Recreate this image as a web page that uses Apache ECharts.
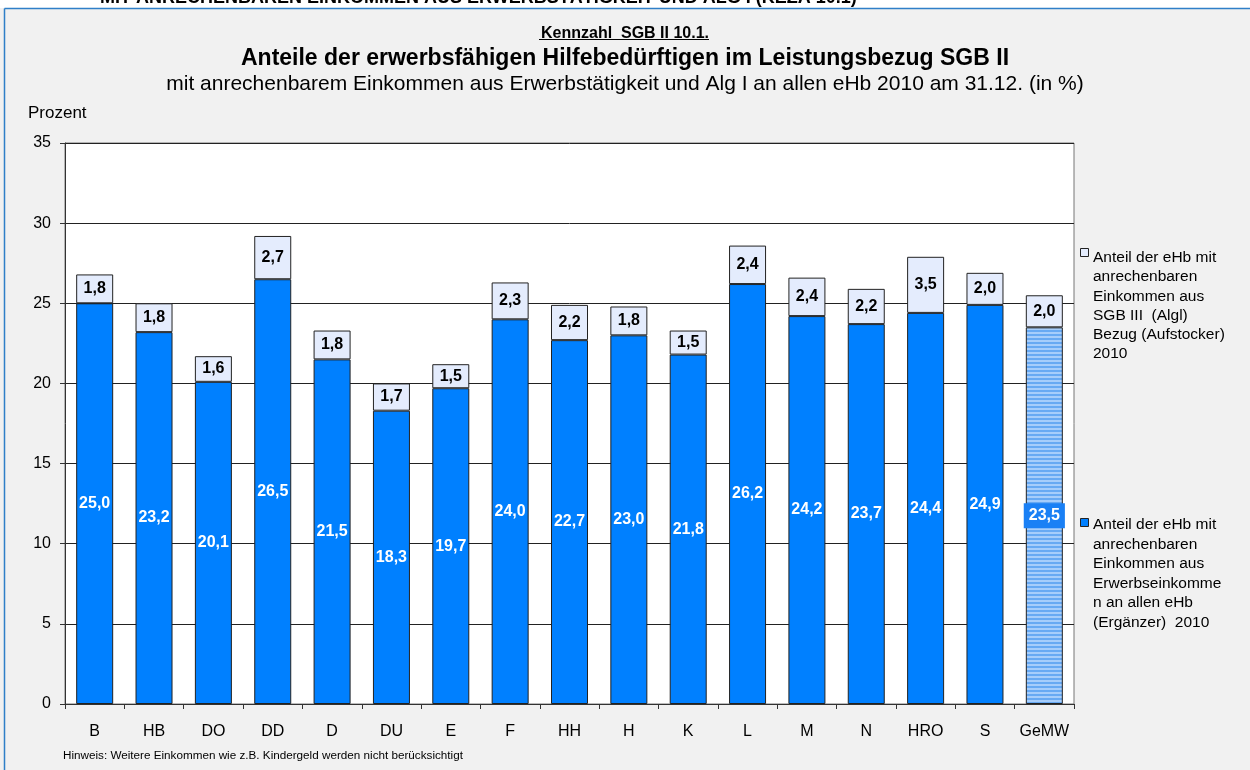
<!DOCTYPE html>
<html>
<head>
<meta charset="utf-8">
<script src="https://cdn.jsdelivr.net/npm/echarts@6/dist/echarts.min.js"></script>
<style>html,body{margin:0;padding:0;background:#fff;}#chart{width:1250px;height:770px;}</style>
</head>
<body>
<div id="chart"></div>
<script>
const categories = ['B','HB','DO','DD','D','DU','E','F','HH','H','K','L','M','N','HRO','S','GeMW'];
const ergaenzer = [25.0,23.2,20.1,26.5,21.5,18.3,19.7,24.0,22.7,23.0,21.8,26.2,24.2,23.7,24.4,24.9,23.5];
const aufstocker = [1.8,1.8,1.6,2.7,1.8,1.7,1.5,2.3,2.2,1.8,1.5,2.4,2.4,2.2,3.5,2.0,2.0];
const legendNames = [
  'Anteil der eHb mit\nanrechenbaren\nEinkommen aus\nSGB III  (Algl)\nBezug (Aufstocker)\n2010',
  'Anteil der eHb mit\nanrechenbaren\nEinkommen aus\nErwerbseinkomme\nn an allen eHb\n(Ergänzer)  2010'
];
const seriesNames = ['Ergänzer 2010', 'Aufstocker 2010'];

const FONT = '"Liberation Sans", Arial, sans-serif';
const fmt = v => v.toFixed(1).replace('.', ',');

// stripe pattern for the average bar
const pc = document.createElement('canvas');
pc.width = 4; pc.height = 4;
const pctx = pc.getContext('2d');
pctx.fillStyle = '#a6cdfb'; pctx.fillRect(0, 0, 4, 2);
pctx.fillStyle = '#67a9f3'; pctx.fillRect(0, 2, 4, 2);

const avgIdx = categories.indexOf('GeMW');

const bottomData = ergaenzer.map((v, i) => i === avgIdx ? {
  value: v,
  itemStyle: { color: { image: pc, repeat: 'repeat' } },
  label: { backgroundColor: '#1a80f5', padding: [5, 5, 4, 5] }
} : v);

const chart = echarts.init(document.getElementById('chart'), null, { renderer: 'canvas' });
chart.setOption({
  backgroundColor: '#f1f1f1',
  animation: false,
  textStyle: { fontFamily: FONT },
  title: [
    { text: 'Kennzahl  SGB II 10.1.', left: 'center', top: 21,
      textStyle: { fontFamily: FONT, fontSize: 16, fontWeight: 'bold', color: '#000' } },
    { text: 'Anteile der erwerbsfähigen Hilfebedürftigen im Leistungsbezug SGB II', left: 'center', top: 42,
      textStyle: { fontFamily: FONT, fontSize: 23, fontWeight: 'bold', color: '#000' } },
    { text: 'mit anrechenbarem Einkommen aus Erwerbstätigkeit und Alg I an allen eHb 2010 am 31.12. (in %)', left: 'center', top: 69,
      textStyle: { fontFamily: FONT, fontSize: 21, fontWeight: 'normal', color: '#000' } }
  ],
  grid: { left: 65, right: 176, top: 143, bottom: 66, show: true, backgroundColor: '#fff', borderColor: '#777', borderWidth: 1 },
  xAxis: {
    type: 'category', data: categories,
    axisLine: { lineStyle: { color: '#333', width: 1 } },
    axisTick: { show: true, length: 5, lineStyle: { color: '#333' } },
    axisLabel: { color: '#000', fontSize: 16, margin: 20, interval: 0, fontFamily: FONT }
  },
  yAxis: {
    type: 'value', min: 0, max: 35, interval: 5,
    axisLine: { show: true, lineStyle: { color: '#333' } },
    axisTick: { show: true, length: 5, lineStyle: { color: '#333' } },
    axisLabel: { color: '#000', fontSize: 16, margin: 14, fontFamily: FONT },
    splitLine: { lineStyle: { color: '#222', width: 1 } }
  },
  series: [
    { name: seriesNames[0], type: 'bar', stack: 'a', barWidth: 37, data: bottomData,
      itemStyle: { color: '#0080ff', borderColor: '#222', borderWidth: 1 },
      label: { show: true, position: 'inside', color: '#fff', fontWeight: 'bold', fontSize: 16, fontFamily: FONT,
        formatter: p => fmt(p.value) } },
    { name: seriesNames[1], type: 'bar', stack: 'a', barWidth: 37, data: aufstocker,
      itemStyle: { color: '#e4ecfd', borderColor: '#222', borderWidth: 1 },
      label: { show: true, position: 'inside', color: '#000', fontWeight: 'bold', fontSize: 16, fontFamily: FONT,
        formatter: p => fmt(p.value) } }
  ],
  graphic: [
    { type: 'rect', shape: { x: 0, y: 0, width: 1250, height: 8 }, style: { fill: '#fff' }, z: 10 },
    { type: 'line', shape: { x1: 4.5, y1: 8.5, x2: 1250, y2: 8.5 }, style: { stroke: '#2f7fc8', lineWidth: 1.5 }, z: 11 },
    { type: 'line', shape: { x1: 4.5, y1: 8.5, x2: 4.5, y2: 770 }, style: { stroke: '#2f7fc8', lineWidth: 1.5 }, z: 11 },
    { type: 'text', left: 100, top: -11, z: 12,
      style: { text: 'MIT ANRECHENBAREN EINKOMMEN AUS ERWERBSTÄTIGKEIT UND ALG I (KEZA 10.1)', font: 'bold 18px ' + FONT, fill: '#000' } },
    { type: 'line', shape: { x1: 539, y1: 39.5, x2: 709, y2: 39.5 }, style: { stroke: '#000', lineWidth: 1 }, z: 5 },
    { type: 'text', x: 28, y: 105, z: 5,
      style: { text: 'Prozent', font: '17px ' + FONT, fill: '#000' } },
    { type: 'rect', shape: { x: 1080.5, y: 248.5, width: 8, height: 8 }, style: { fill: '#e4ecfd', stroke: '#222', lineWidth: 1 }, z: 5 },
    { type: 'text', x: 1093, y: 248, z: 5,
      style: { text: legendNames[0], font: '15.5px ' + FONT, fill: '#000', lineHeight: 19.3 } },
    { type: 'rect', shape: { x: 1080.5, y: 518.5, width: 8, height: 8 }, style: { fill: '#0080ff', stroke: '#222', lineWidth: 1 }, z: 5 },
    { type: 'text', x: 1093, y: 515, z: 5,
      style: { text: legendNames[1], font: '15.5px ' + FONT, fill: '#000', lineHeight: 19.5 } },
    { type: 'text', x: 63, y: 750, z: 5,
      style: { text: 'Hinweis: Weitere Einkommen wie z.B. Kindergeld werden nicht berücksichtigt', font: '11.7px ' + FONT, fill: '#000' } }
  ]
});
</script>
</body>
</html>
